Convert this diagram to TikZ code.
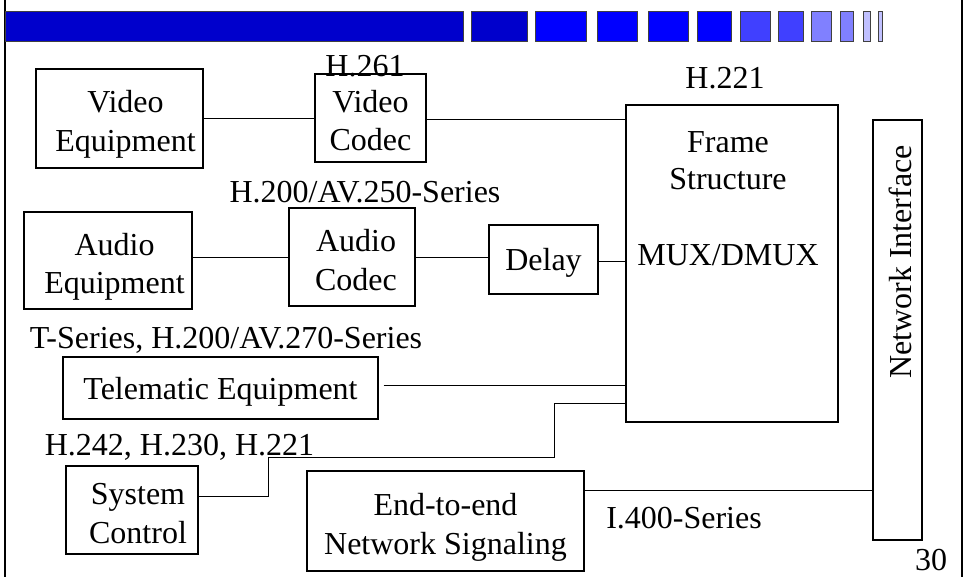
\documentclass[tikz,border=0pt]{standalone}
\usepackage{fontspec}
\setmainfont{Liberation Serif}
\definecolor{bardark}{HTML}{0000CC}
\definecolor{barblue}{HTML}{0000FF}
\definecolor{barmid}{HTML}{4040FF}
\definecolor{barlight}{HTML}{8080FF}
\definecolor{barpale}{HTML}{C0C0FF}
\newcommand\fsz{\fontsize{32}{38.5}\selectfont}
\tikzset{
  box/.style={draw=black, line width=1.2pt, fill=white, align=center, inner sep=0pt, font=\fsz, text depth=0pt},
  twoline/.style={box, execute at begin node={\rule{0pt}{66pt}\hspace*{#1}}},
  twoline/.default=0pt,
  framebox/.style={draw=black, line width=1.2pt, inner sep=0pt},
  lbl/.style={font=\fsz, inner sep=0pt, align=center},
  conn/.style={line width=1pt},
  seg/.style={draw=black!75, line width=1pt},
  border/.style={line width=2pt}
}
\begin{document}
\begin{tikzpicture}[x=1pt,y=-1pt]
\useasboundingbox (0,0) rectangle (965,577);
% slide border
\draw[border] (5,0) -- (5,577);
\draw[border] (962,0) -- (962,577);
% top bar
\foreach \a/\b/\c in {5/463/bardark,471/527/bardark,535/586/barblue,597/637/barblue,648/688/barblue,697/731/barblue,740/770/barmid,778/803/barmid,811/831/barlight,840/853/barlight,863/870/barpale,878/882/barpale}
  \draw[seg, fill=\c] (\a,12) rectangle (\b,42);
% boxes
\node[twoline=12pt, minimum width=167pt, minimum height=99pt] (VE) at (119.5,118.5) {Video\\Equipment};
\node[twoline, minimum width=111pt, minimum height=88pt] (VC) at (370.5,118) {Video\\Codec};
\node[lbl] (h261) at (365,66) {H.261};
\node[framebox, minimum width=212pt, minimum height=317pt] (FR) at (732,263.5) {};
\node[lbl] (FRt) at (728,199) {Frame\\[-2pt]Structure\\[38pt]MUX/DMUX};
\node[lbl] (h221) at (725,78) {H.221};
\node[framebox, minimum width=49pt, minimum height=420pt] (NI) at (897.5,330) {};
\node[lbl, rotate=90] (NIt) at (900,262) {Network Interface};
\node[lbl] (h200) at (365,192) {H.200/AV.250-Series};
\node[twoline=13pt, minimum width=168pt, minimum height=97pt] (AE) at (108,260.5) {Audio\\Equipment};
\node[twoline=8pt, minimum width=126pt, minimum height=98pt] (AC) at (352,257) {Audio\\Codec};
\node[box, minimum width=109pt, minimum height=69pt] (DL) at (543.5,259.5) {Delay};
\node[lbl] (tser) at (226,340) {T-Series, H.200/AV.270-Series};
\node[box, minimum width=315pt, minimum height=62pt] (TE) at (220.5,388) {Telematic Equipment};
\node[lbl] (h242) at (179.5,447) {H.242, H.230, H.221};
\node[twoline=12pt, minimum width=132pt, minimum height=88pt] (SC) at (132,510) {System\\Control};
\node[twoline, minimum width=277pt, minimum height=100pt] (EE) at (445.5,521) {End-to-end\\Network Signaling};
\node[lbl] (i400) at (684,518) {I.400-Series};
\node[lbl] (pg) at (931,560) {30};
% connectors
\draw[conn] (VE.east) -- (VE.east -| VC.west);
\draw[conn] ([yshift=-2pt]VC.east) -- ([yshift=-2pt]VC.east -| FR.west);
\draw[conn] (AC.west -| AE.east) -- (AC.west);
\draw[conn] (AC.east) -- (AC.east -| DL.west);
\draw[conn] ([yshift=-2pt]DL.east) -- ([yshift=-2pt]DL.east -| FR.west);
\draw[conn, shorten <=5pt] ([yshift=3pt]TE.east) -- ([yshift=3pt]TE.east -| FR.west);
\coordinate (k1) at (268,457);
\coordinate (k2) at (554,403);
\draw[conn] ([yshift=14pt]SC.east) -| (k1) -| (k2) -- (k2 -| FR.west);
\draw[conn] ([yshift=31pt]EE.east) -- ([yshift=31pt]EE.east -| NI.west);
\end{tikzpicture}
\end{document}
